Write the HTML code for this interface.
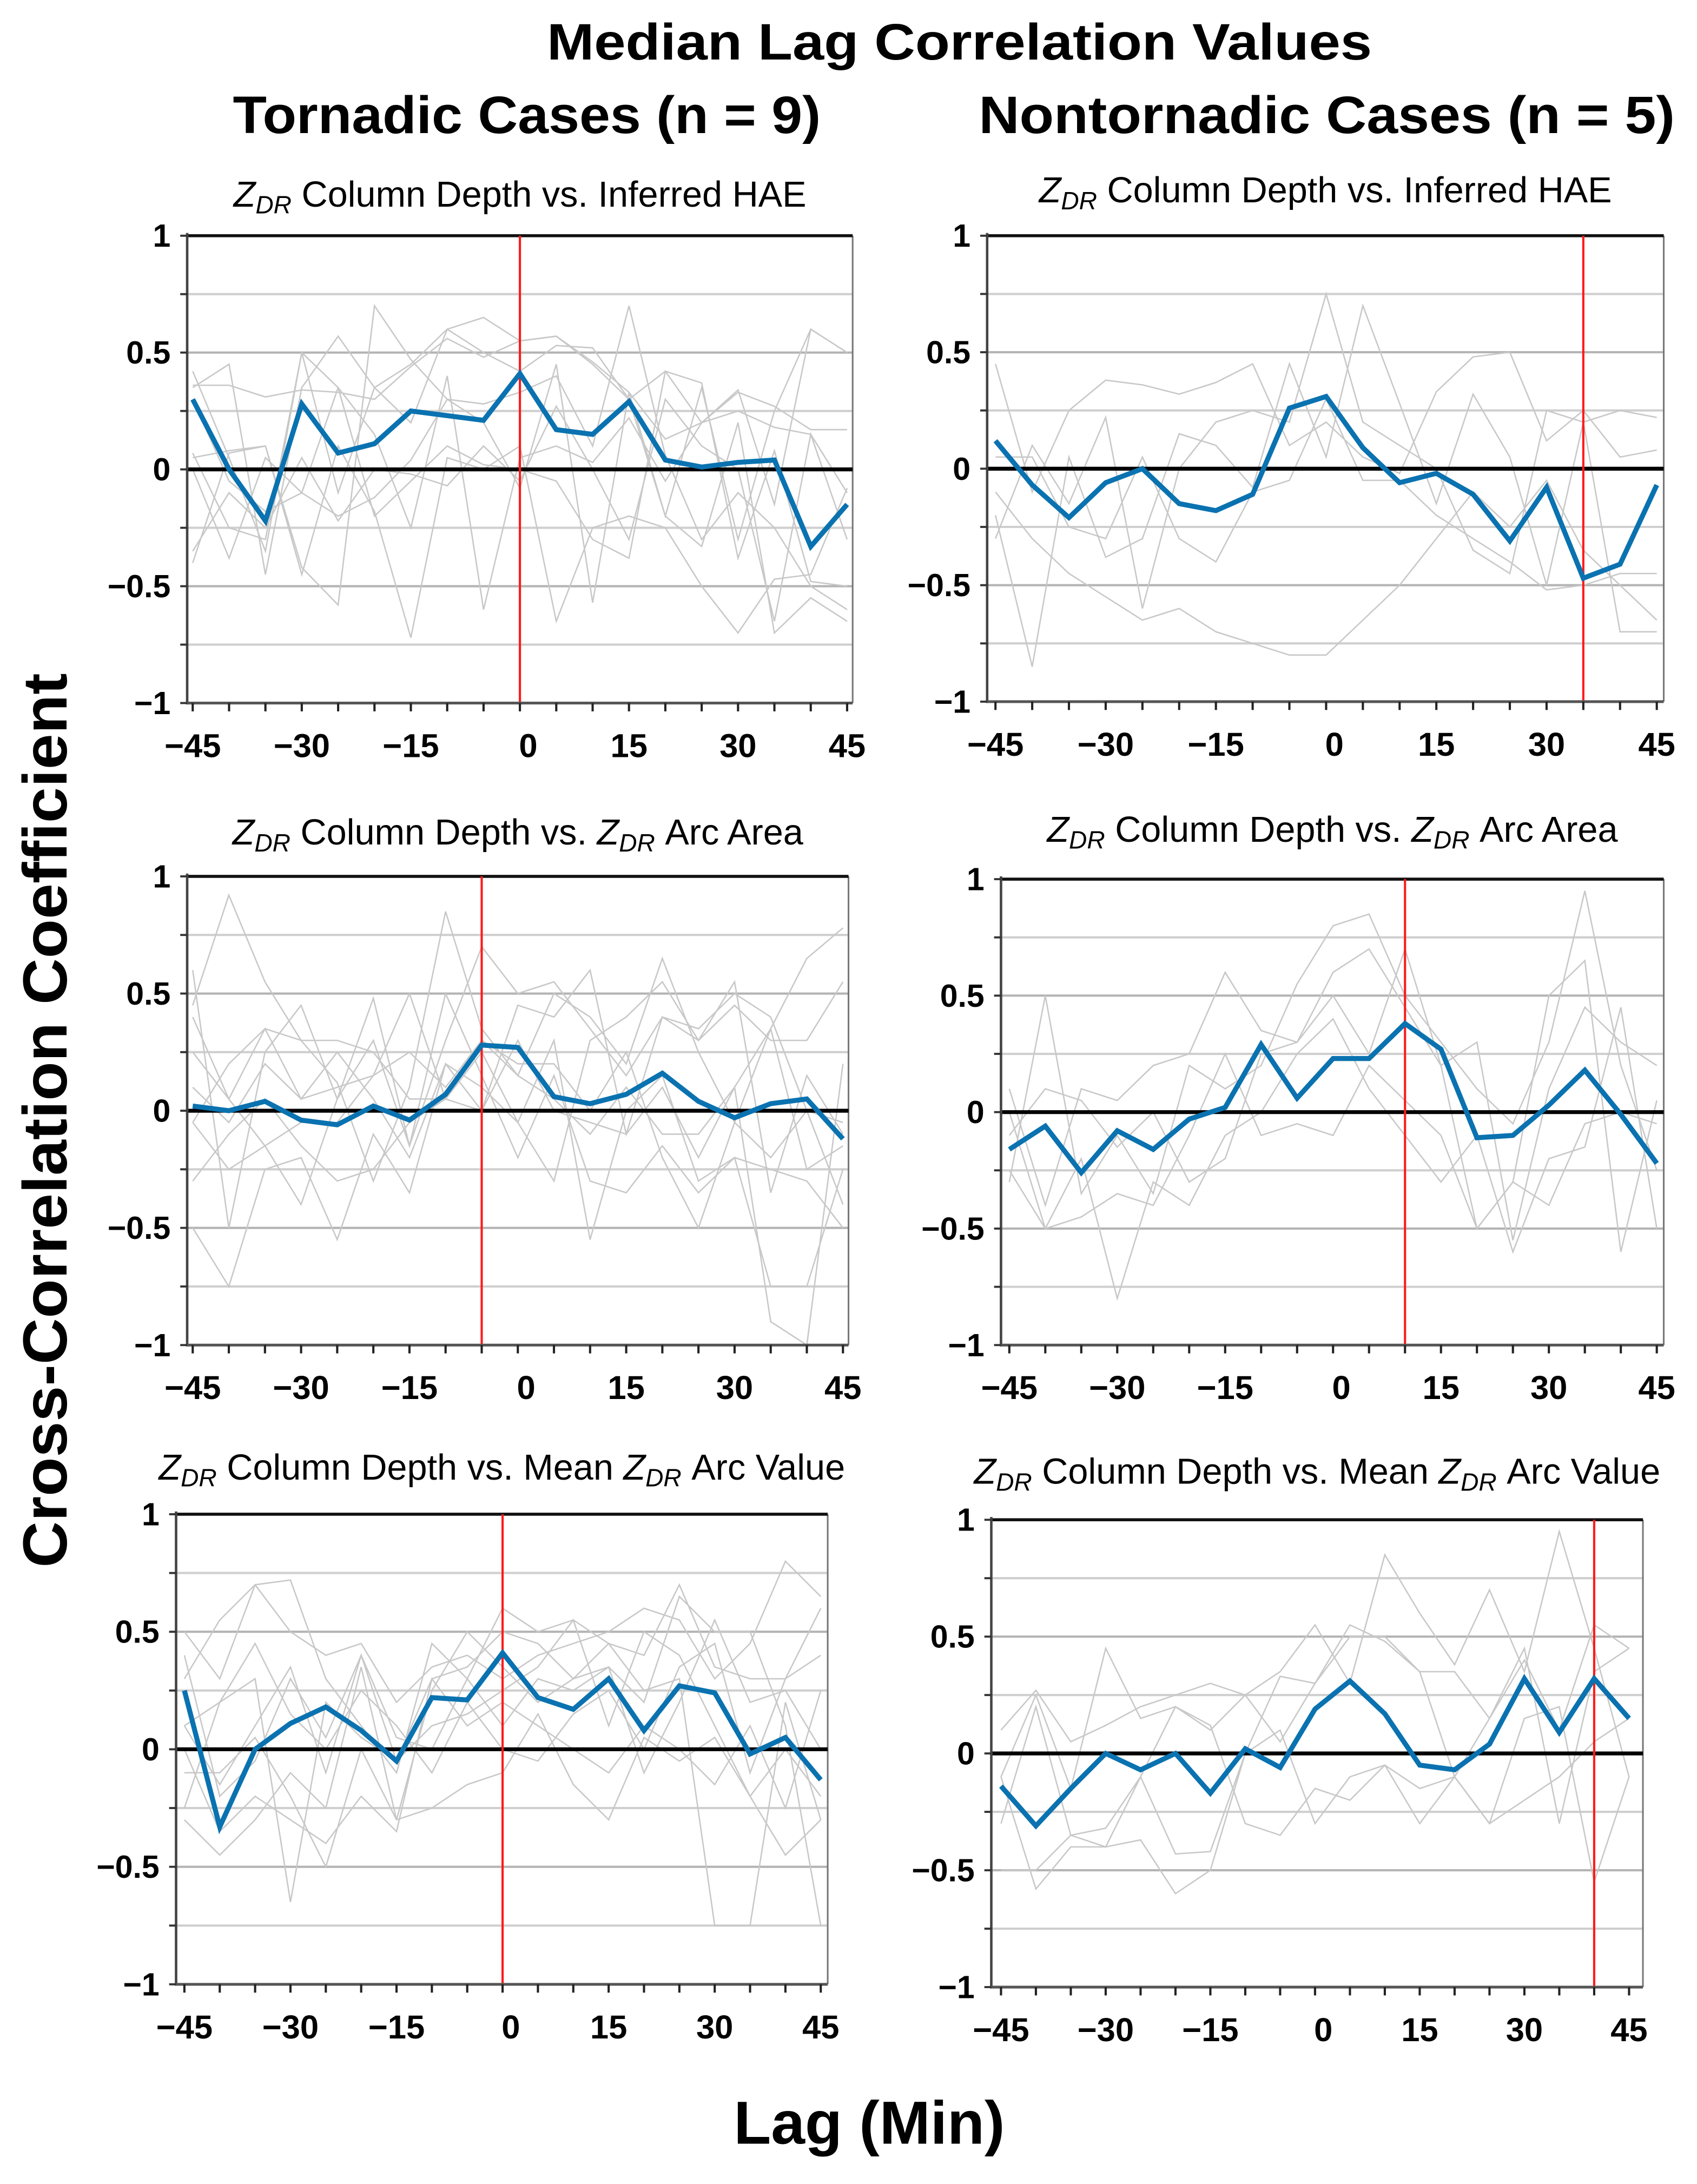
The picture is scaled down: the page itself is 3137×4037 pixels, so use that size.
<!DOCTYPE html>
<html><head><meta charset="utf-8"><style>
html,body{margin:0;padding:0;background:#fff;}
svg{display:block;}
text{font-family:"Liberation Sans","DejaVu Sans",sans-serif;}
</style></head><body>
<svg id="fig" width="3137" height="4037" viewBox="0 0 1224 1575" preserveAspectRatio="none" xmlns="http://www.w3.org/2000/svg">
<text x="692" y="43" text-anchor="middle" font-size="37" font-weight="bold" textLength="595" lengthAdjust="spacingAndGlyphs">Median Lag Correlation Values</text>
<text x="380" y="96" text-anchor="middle" font-size="38" font-weight="bold" textLength="424" lengthAdjust="spacingAndGlyphs">Tornadic Cases (n = 9)</text>
<text x="957" y="96" text-anchor="middle" font-size="38" font-weight="bold" textLength="502" lengthAdjust="spacingAndGlyphs">Nontornadic Cases (n = 5)</text>
<text transform="translate(48,808) rotate(-90)" text-anchor="middle" font-size="45" font-weight="bold" textLength="645" lengthAdjust="spacingAndGlyphs">Cross-Correlation Coefficient</text>
<text x="627" y="1546" text-anchor="middle" font-size="44" font-weight="bold">Lag (Min)</text>
<g id="panels"></g>
</svg>
<script>
const lags = [-45,-40,-35,-30,-25,-20,-15,-10,-5,0,5,10,15,20,25,30,35,40,45];
const xTickLabels = [-45,-30,-15,0,15,30,45];
const yTickValues = [1,0.5,0,-0.5,-1];
const yTickLabels = ["1","0.5","0","\u22120.5","\u22121"];

const medianTL = [0.30,0.0,-0.22,0.28,0.07,0.11,0.25,0.23,0.21,0.41,0.17,0.15,0.29,0.04,0.01,0.03,0.04,-0.33,-0.15];
const medianTR = [0.12,-0.07,-0.21,-0.06,0.0,-0.15,-0.18,-0.11,0.26,0.31,0.09,-0.06,-0.02,-0.11,-0.31,-0.08,-0.47,-0.41,-0.07];
const medianML = [0.02,0.0,0.04,-0.04,-0.06,0.02,-0.04,0.07,0.28,0.27,0.06,0.03,0.07,0.16,0.04,-0.03,0.03,0.05,-0.12];
const medianMR = [-0.16,-0.06,-0.26,-0.08,-0.16,-0.03,0.02,0.29,0.06,0.23,0.23,0.38,0.27,-0.11,-0.10,0.03,0.18,-0.01,-0.22];
const medianBL = [0.25,-0.33,0.0,0.11,0.18,0.08,-0.05,0.22,0.21,0.41,0.22,0.17,0.30,0.08,0.27,0.24,-0.02,0.05,-0.13];
const medianBR = [-0.14,-0.31,-0.15,0.0,-0.07,0.0,-0.17,0.02,-0.06,0.19,0.31,0.17,-0.05,-0.07,0.04,0.32,0.09,0.32,0.15];

const redLagTL = 0, redLagTR = 35, redLagML = -5, redLagMR = 10, redLagBL = 0, redLagBR = 40;

const greyTL = [
 [0.42,0.05,-0.35,0.5,-0.1,0.35,0.2,0.6,0.65,0.55,0.57,0.45,0.3,-0.2,0.35,-0.3,0.25,0.6,0.5],
 [0.35,0.45,-0.45,0.35,0.57,0.35,0.45,0.6,0.5,0.42,0.53,0.52,0.3,0.42,0.2,0.33,0.27,0.17,0.17],
 [0.36,0.36,0.31,0.34,0.33,0.3,0.44,0.56,0.48,0.55,0.57,0.46,0.33,0.13,0.2,0.25,0.18,0.15,-0.1],
 [-0.4,0.07,0.1,-0.42,-0.58,0.7,0.47,0.3,0.28,0.33,0.4,0.1,0.7,0.06,-0.3,-0.1,-0.25,-0.5,-0.6],
 [0.07,-0.25,-0.3,0.5,0.35,-0.2,-0.05,0.1,0.02,0.0,-0.05,-0.3,-0.38,0.42,0.37,-0.38,0.08,-0.48,-0.5],
 [0.0,-0.38,0.05,-0.1,0.35,0.15,-0.25,0.4,-0.6,0.05,0.1,0.03,0.22,-0.05,0.2,0.34,-0.15,0.6,0.5],
 [0.3,-0.05,-0.18,-0.1,-0.2,-0.12,0.04,0.3,0.2,-0.08,0.45,-0.57,0.33,-0.2,-0.33,0.2,-0.7,-0.55,-0.65],
 [0.05,0.08,0.1,-0.45,0.1,-0.18,-0.72,0.05,0.0,0.1,-0.65,-0.25,-0.2,-0.25,-0.5,-0.7,-0.47,-0.45,-0.08],
 [-0.35,-0.1,-0.25,0.05,-0.22,0.0,-0.02,-0.07,0.1,-0.05,0.27,0.0,-0.3,0.3,0.1,0.0,-0.65,0.15,-0.3]
];
const greyTR = [
 [0.45,-0.1,0.25,0.38,0.36,0.32,0.37,0.45,0.1,0.2,0.05,-0.02,0.33,0.48,0.5,0.12,0.25,0.05,0.08],
 [-0.2,-0.85,0.05,-0.38,-0.3,0.15,0.1,-0.08,0.45,0.05,0.7,0.28,-0.15,0.32,0.05,-0.5,0.2,-0.7,-0.7],
 [-0.3,0.1,-0.15,0.22,-0.6,0.0,0.2,0.25,0.2,0.75,0.2,0.1,0.0,-0.35,-0.45,0.25,0.2,0.25,0.22],
 [0.05,0.05,-0.25,-0.3,0.05,-0.3,-0.4,-0.1,-0.05,0.3,-0.05,-0.05,-0.2,-0.3,-0.4,-0.52,-0.5,-0.45,-0.45],
 [-0.1,-0.3,-0.45,-0.55,-0.65,-0.6,-0.7,-0.75,-0.8,-0.8,-0.65,-0.5,-0.3,-0.1,-0.25,-0.05,-0.35,-0.5,-0.65]
];
const greyML = [
 [0.45,0.92,0.55,0.3,0.12,-0.3,0.1,0.85,0.35,0.15,0.5,0.4,0.2,0.65,0.25,-0.05,0.35,0.65,0.78],
 [0.6,-0.5,0.25,0.45,0.05,0.48,-0.15,0.3,0.7,0.5,0.55,0.35,0.15,0.4,0.3,0.45,0.3,0.3,0.55],
 [-0.05,0.2,0.35,0.05,0.25,0.05,-0.2,0.2,0.0,0.45,0.4,0.6,-0.1,0.4,0.35,0.5,0.4,0.0,-0.05],
 [0.25,0.05,0.35,0.3,0.3,0.25,0.05,0.05,0.25,-0.05,-0.3,0.3,0.4,0.55,0.3,0.55,-0.35,0.15,-0.1],
 [-0.05,-0.25,-0.15,-0.05,-0.05,0.15,0.5,0.05,0.0,0.3,0.0,-0.05,-0.1,0.1,-0.2,0.1,-0.9,-1.0,0.2],
 [0.4,0.05,-0.15,-0.4,0.05,0.3,-0.15,0.5,0.15,-0.2,0.15,-0.3,-0.35,-0.15,-0.35,-0.2,-0.25,-0.3,-0.5],
 [-0.5,-0.75,-0.25,-0.2,-0.55,-0.1,-0.35,0.2,0.1,-0.05,0.3,-0.55,0.0,0.15,-0.3,-0.2,-0.75,-0.75,-0.25],
 [-0.3,-0.1,0.05,-0.15,-0.3,-0.25,-0.05,0.05,0.3,0.2,0.2,0.0,0.25,-0.2,-0.5,-0.05,-0.2,0.0,-0.4],
 [0.1,-0.05,0.2,0.05,0.1,0.15,0.25,0.1,0.3,0.15,0.05,-0.1,0.1,-0.1,-0.1,0.1,0.35,-0.25,-0.15]
];
const greyMR = [
 [-0.3,0.5,-0.35,-0.1,-0.35,0.2,0.1,0.2,0.55,0.8,0.85,0.5,0.3,0.1,-0.05,0.3,0.95,0.2,-0.25],
 [0.1,-0.4,0.1,0.05,0.2,0.25,0.6,0.35,0.3,0.5,0.25,0.7,0.2,-0.5,-0.3,0.5,0.65,-0.6,0.05],
 [-0.25,-0.5,-0.2,-0.8,-0.3,-0.4,-0.1,0.0,0.25,0.4,0.1,-0.1,-0.3,-0.1,-0.6,-0.2,-0.15,0.45,-0.5],
 [-0.1,0.1,0.05,-0.15,0.0,-0.3,-0.2,0.25,0.3,0.6,0.7,0.45,0.2,0.3,-0.55,0.1,0.45,0.3,0.2],
 [0.0,-0.5,-0.45,-0.35,-0.4,-0.1,0.25,-0.1,-0.05,-0.1,0.2,0.05,-0.1,-0.5,-0.3,-0.4,-0.05,0.0,-0.05]
];
const greyBL = [
 [0.5,0.3,0.7,0.72,0.3,0.1,-0.1,0.45,0.3,0.6,0.5,0.55,0.45,0.4,0.7,0.35,0.3,0.3,0.6],
 [0.3,0.55,0.7,0.5,0.4,0.45,0.2,0.35,0.4,0.3,0.4,0.45,0.5,0.6,0.55,0.3,0.45,0.8,0.65],
 [0.1,-0.15,0.1,0.35,-0.1,0.4,-0.05,0.3,0.35,0.5,0.45,0.3,0.35,0.2,0.65,0.5,0.5,0.1,-0.75],
 [-0.25,0.2,0.3,-0.65,0.2,0.05,-0.05,0.1,0.15,0.25,0.35,0.55,0.1,0.5,0.4,0.1,-0.2,0.0,-0.2],
 [-0.3,-0.45,-0.3,-0.1,-0.25,0.35,-0.3,0.25,0.5,0.35,0.2,0.3,0.45,0.25,0.3,-0.75,-0.75,0.2,-0.3],
 [0.4,-0.2,-0.05,0.3,0.05,0.4,0.05,0.0,0.3,0.1,0.3,0.25,0.35,-0.1,0.2,0.55,0.2,0.25,0.0],
 [0.0,-0.35,-0.2,-0.3,-0.4,-0.2,-0.35,0.3,0.1,0.2,0.1,0.0,-0.1,0.1,0.0,-0.15,0.1,-0.25,0.25],
 [0.1,0.2,0.45,0.15,0.0,0.25,0.1,-0.1,0.2,0.0,-0.05,0.15,0.25,0.0,0.35,0.45,-0.1,0.3,0.4],
 [-0.1,-0.1,0.05,-0.2,-0.5,0.0,-0.3,-0.25,-0.15,-0.1,0.15,-0.15,-0.3,0.05,-0.05,0.05,-0.2,-0.45,-0.3]
];
const greyBR = [
 [0.1,0.27,0.05,0.12,0.2,0.25,0.3,0.25,0.35,0.55,0.3,0.85,0.6,0.38,0.7,0.35,0.95,0.45,-0.1],
 [-0.1,0.25,-0.15,0.45,0.15,0.2,0.1,0.25,0.05,0.3,0.55,0.48,0.35,-0.1,0.15,0.45,-0.3,0.35,0.45],
 [-0.5,-0.5,-0.35,-0.32,-0.1,0.2,0.12,-0.3,-0.35,-0.15,-0.2,-0.05,-0.15,-0.1,-0.3,0.15,0.2,-0.55,-0.1],
 [-0.1,-0.58,-0.4,-0.4,-0.37,-0.6,-0.5,0.0,0.33,0.3,0.5,0.5,0.35,0.35,0.15,0.4,0.1,0.55,0.45],
 [-0.3,0.2,-0.35,-0.4,-0.1,-0.43,-0.42,0.0,0.1,-0.3,-0.1,-0.05,-0.3,-0.1,-0.3,-0.2,-0.1,0.05,0.15]
];

const panels = [
 {id:'tl',title:'Column Depth vs. Inferred HAE',sub2:false,left:135,right:615,top:170,bottom:507,x0:139,x1:611,ty:149,median:medianTL,grey:greyTL,red:redLagTL},
 {id:'tr',title:'Column Depth vs. Inferred HAE',sub2:false,left:712,right:1200,top:170,bottom:506,x0:718,x1:1195,ty:146,median:medianTR,grey:greyTR,red:redLagTR},
 {id:'ml',title:'Column Depth vs. ',sub2:'Arc Area',left:135,right:612,top:632,bottom:970,x0:139,x1:608,ty:609,median:medianML,grey:greyML,red:redLagML},
 {id:'mr',title:'Column Depth vs. ',sub2:'Arc Area',left:722,right:1200,top:634,bottom:970,x0:728,x1:1195,ty:607,median:medianMR,grey:greyMR,red:redLagMR},
 {id:'bl',title:'Column Depth vs. Mean ',sub2:'Arc Value',left:127,right:597,top:1092,bottom:1431,x0:133,x1:592,ty:1067,median:medianBL,grey:greyBL,red:redLagBL},
 {id:'br',title:'Column Depth vs. Mean ',sub2:'Arc Value',left:715,right:1185,top:1096,bottom:1433,x0:722,x1:1175,ty:1070,median:medianBR,grey:greyBR,red:redLagBR}
];
const NS='http://www.w3.org/2000/svg';
const root=document.getElementById('panels');
function mk(tag,attrs,parent){const e=document.createElementNS(NS,tag);for(const k in attrs)e.setAttribute(k,attrs[k]);parent.appendChild(e);return e;}

panels.forEach(p=>{
 const xs=l=>p.x0+(l+45)/90*(p.x1-p.x0);
 const ys=v=>p.top+(1-v)/2*(p.bottom-p.top);
 const g=mk('g',{},root);
 
 
 const cx=(p.left+p.right)/2;
 const t=mk('text',{x:cx,y:p.ty,'text-anchor':'middle','font-size':'26'},g);
 
 
 const addZ=()=>{const a=mk('tspan',{'font-style':'italic'},t);a.textContent='Z';const b=mk('tspan',{'font-style':'italic','font-size':'18',dy:'5'},t);b.textContent='DR';const c=mk('tspan',{dy:'-5'},t);c.textContent=' ';};
 addZ();
 const s1=mk('tspan',{},t);s1.textContent=p.title;
 if(p.sub2){addZ();const s2=mk('tspan',{},t);s2.textContent=p.sub2;}
 [0.75,0.5,0.25,-0.25,-0.5,-0.75].forEach(v=>{
  const gl=mk('line',{x1:p.left,x2:p.right,y1:ys(v),y2:ys(v),stroke:Math.abs(v)===0.5?'#b4b4b4':'#cfcfcf','stroke-width':'1.6'},g);
  
  
 });
 mk('line',{x1:p.right,x2:p.right,y1:p.top,y2:p.bottom,stroke:'#777','stroke-width':'1.2'},g);
 p.grey.forEach((arr,i)=>{
  const pl=mk('polyline',{points:arr.map((v,j)=>xs(lags[j])+','+ys(v)).join(' '),fill:'none',stroke:'#c8c8c8','stroke-width':'1'},g);
  
  
 });
 const z=mk('line',{x1:p.left,x2:p.right,y1:ys(0),y2:ys(0),stroke:'#000','stroke-width':'2.8'},g);
 
 
 mk('line',{x1:p.left,x2:p.right,y1:p.top,y2:p.top,stroke:'#111','stroke-width':'2.2'},g);
 const r=mk('line',{x1:xs(p.red),x2:xs(p.red),y1:p.top,y2:p.bottom,stroke:'#ff1a1a','stroke-width':'1.6'},g);
 
 
 const m=mk('polyline',{points:p.median.map((v,j)=>xs(lags[j])+','+ys(v)).join(' '),fill:'none',stroke:'#0a72b0','stroke-width':'3.6','stroke-linejoin':'miter'},g);
 
 
 mk('line',{x1:p.left,x2:p.left,y1:p.top-2,y2:p.bottom+1,stroke:'#444','stroke-width':'1.8'},g);
 mk('line',{x1:p.left,x2:p.right,y1:p.bottom,y2:p.bottom,stroke:'#555','stroke-width':'2'},g);
 lags.forEach(l=>mk('line',{x1:xs(l),x2:xs(l),y1:p.bottom,y2:p.bottom+6,stroke:'#222','stroke-width':'1.6'},g));
 [1,0.75,0.5,0.25,0,-0.25,-0.5,-0.75,-1].forEach(v=>mk('line',{x1:p.left-5,x2:p.left,y1:ys(v),y2:ys(v),stroke:'#333','stroke-width':'1.5'},g));
 yTickValues.forEach((v,i)=>{
  const tl=mk('text',{x:p.left-12,y:ys(v)+8,'text-anchor':'end','font-size':'23','font-weight':'bold'},g);
  tl.textContent=yTickLabels[i];
  
  
 });
 xTickLabels.forEach(l=>{
  const tl=mk('text',{x:xs(l)+(l===0?6:0),y:p.bottom+39,'text-anchor':'middle','font-size':'24','font-weight':'bold'},g);
  tl.textContent=l<0?'\u2212'+(-l):String(l);
  
  
 });
});
</script>
</body></html>
